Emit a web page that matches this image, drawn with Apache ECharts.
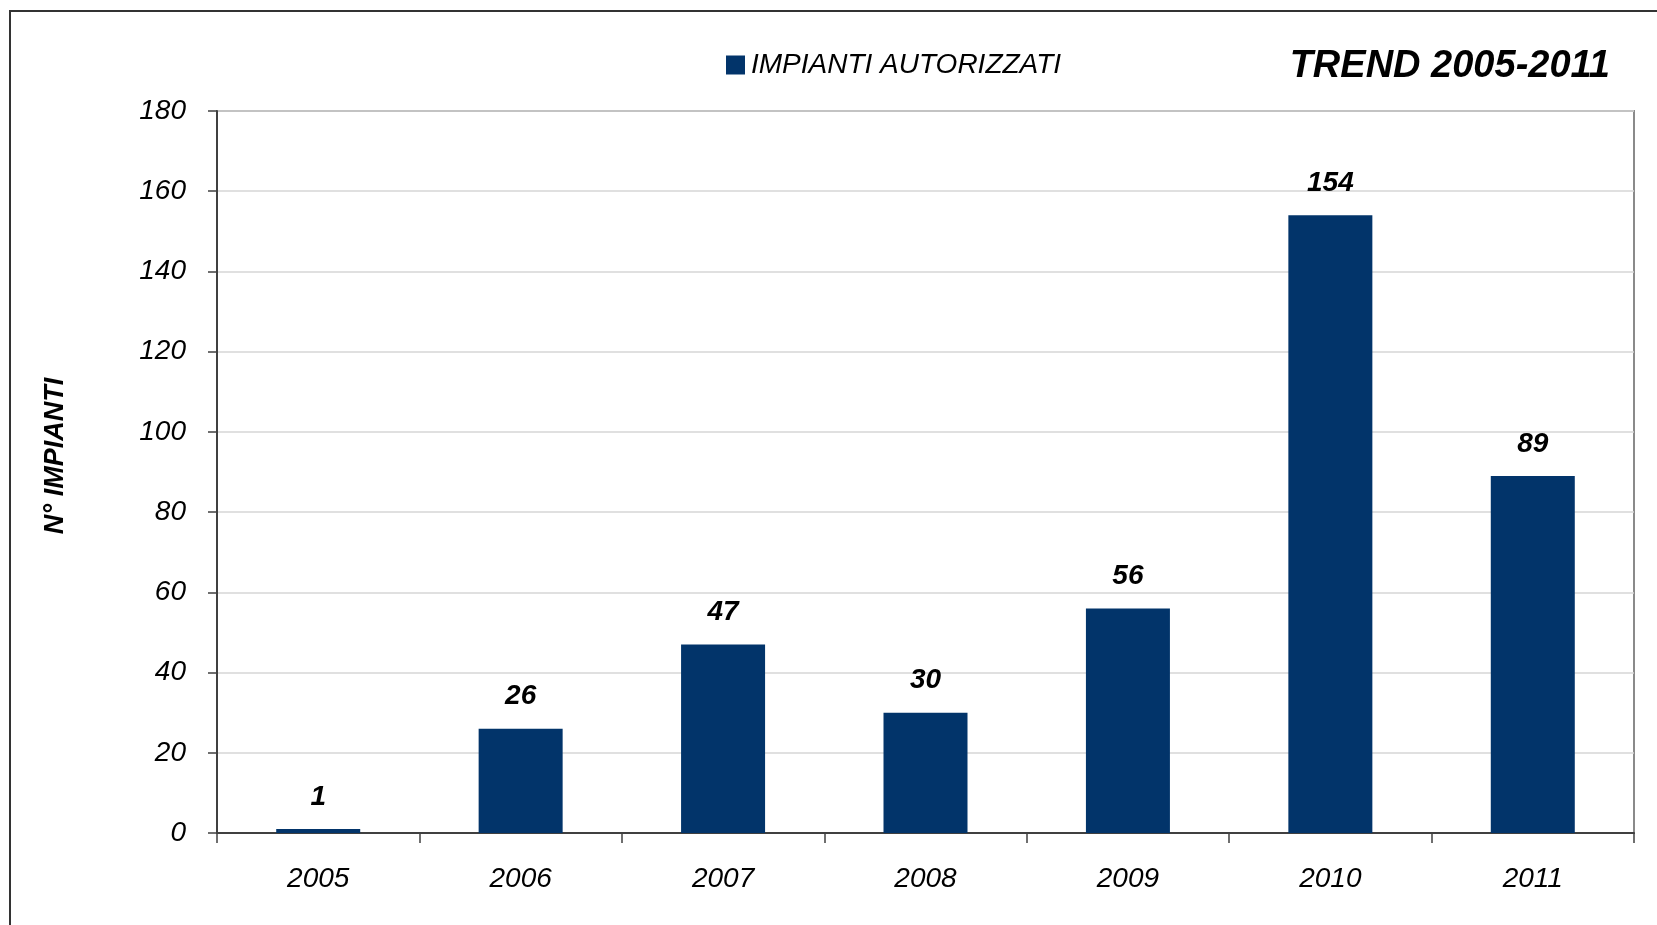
<!DOCTYPE html>
<html>
<head>
<meta charset="utf-8">
<script src="https://cdn.jsdelivr.net/npm/echarts@6/dist/echarts.min.js"></script>
<style>
html,body{margin:0;padding:0;background:#fff;}
#chart{width:1657px;height:925px;}
</style>
</head>
<body>
<div id="chart"></div>
<script>
var categories = ['2005', '2006', '2007', '2008', '2009', '2010', '2011'];
var values = [1, 26, 47, 30, 56, 154, 89];
var seriesName = 'IMPIANTI AUTORIZZATI';
var titleText = 'TREND 2005-2011';
var yAxisName = 'N° IMPIANTI';
var yMin = 0, yMax = 180, yInterval = 20;

var FONT = '"Liberation Sans", Arial, sans-serif';
var chart = echarts.init(document.getElementById('chart'), null, {renderer: 'canvas'});
chart.setOption({
  backgroundColor: '#ffffff',
  animation: false,
  title: {
    text: titleText,
    right: 42,
    top: 43,
    textStyle: {fontFamily: FONT, fontSize: 38, fontWeight: 'bold', fontStyle: 'italic', color: '#000'}
  },
  legend: {
    data: [seriesName],
    left: 721,
    top: 46,
    itemWidth: 19,
    itemHeight: 19,
    itemGap: 6,
    icon: 'rect',
    textStyle: {fontFamily: FONT, fontSize: 28, fontStyle: 'italic', color: '#000', padding: [0,0,0,1]}
  },
  grid: {
    left: 217, right: 23, top: 111, bottom: 92,
    show: true, borderColor: '#8a8a8a', borderWidth: 2, backgroundColor: 'transparent'
  },
  graphic: [
    {
      type: 'rect', silent: true, z: -1,
      shape: {x: 10, y: 11, width: 1700, height: 1000},
      style: {fill: null, stroke: '#333', lineWidth: 2}
    },
    {
      type: 'text', silent: true,
      x: 56, y: 456, rotation: Math.PI / 2,
      style: {text: yAxisName, font: 'italic bold 27px ' + FONT, fill: '#000', align: 'center', verticalAlign: 'middle'}
    }
  ],
  xAxis: {
    type: 'category',
    data: categories,
    axisLine: {show: true, lineStyle: {color: '#404040', width: 2}},
    axisTick: {show: true, alignWithLabel: false, length: 10, lineStyle: {color: '#404040', width: 1.5}},
    axisLabel: {fontFamily: FONT, fontSize: 28, fontStyle: 'italic', color: '#000', margin: 32},
    splitLine: {show: false}
  },
  yAxis: {
    type: 'value',
    min: yMin, max: yMax, interval: yInterval,
    axisLine: {show: true, lineStyle: {color: '#404040', width: 2}},
    axisTick: {show: true, length: 9, lineStyle: {color: '#404040', width: 1.5}},
    axisLabel: {fontFamily: FONT, fontSize: 28, fontStyle: 'italic', color: '#000', margin: 31},
    splitLine: {show: true, lineStyle: {color: '#d6d6d6', width: 1.5}}
  },
  series: [{
    name: seriesName,
    type: 'bar',
    data: values,
    barWidth: 84,
    itemStyle: {color: '#02346a'},
    label: {
      show: true, position: 'top', distance: 18,
      fontFamily: FONT, fontSize: 28, fontWeight: 'bold', fontStyle: 'italic', color: '#000'
    }
  }]
});
</script>
</body>
</html>
